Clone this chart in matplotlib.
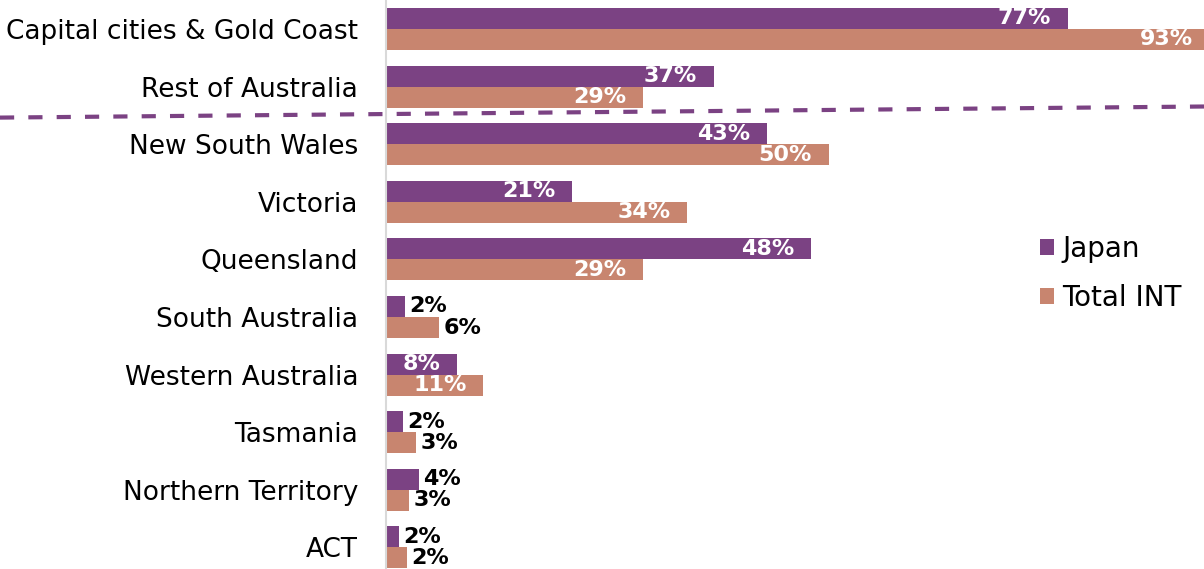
import matplotlib
matplotlib.use("Agg")
from matplotlib import pyplot as plt
from matplotlib.lines import Line2D
import numpy as np

# data (bar lengths, labels are rounded)
regions = ['Capital cities & Gold Coast', 'Rest of Australia', 'New South Wales',
           'Victoria', 'Queensland', 'South Australia', 'Western Australia',
           'Tasmania', 'Northern Territory', 'ACT']
japan = [77, 37, 43, 21, 48, 2.1, 8, 1.9, 3.7, 1.5]
total_int = [93, 29, 50, 34, 29, 6, 11, 3.4, 2.6, 2.4]

purple = '#7B4283'
salmon = '#C8856F'

fig = plt.figure(figsize=(12.04, 5.69), dpi=100)
ax = fig.add_axes([0.3206, 0, 0.6794, 1])

y = np.arange(len(regions))
h = 0.365
ax.barh(y - h / 2, japan, height=h, color=purple, label='Japan')
ax.barh(y + h / 2, total_int, height=h, color=salmon, label='Total INT')

ax.set_xlim(0, 92.4)
ax.set_ylim(9.375, -0.503)

ax.set_yticks(y)
ax.set_yticklabels(regions, fontsize=19)
ax.tick_params(axis='y', length=0, pad=20)
ax.set_xticks([])
for s in ['top', 'right', 'bottom']:
    ax.spines[s].set_visible(False)
ax.spines['left'].set_color('#D9D9D9')
ax.spines['left'].set_linewidth(1.5)

# data labels
for vals, off in [(japan, -h / 2), (total_int, h / 2)]:
    for i, v in enumerate(vals):
        txt = '%d%%' % int(v + 0.5)
        if v >= 8:
            ax.annotate(txt, (v, i + off), xytext=(-12, 0), textcoords='offset points',
                        ha='right', va='center', color='white', fontsize=16,
                        fontweight='bold', annotation_clip=False)
        else:
            ax.annotate(txt, (v, i + off), xytext=(3, 0), textcoords='offset points',
                        ha='left', va='center', color='black', fontsize=16,
                        fontweight='bold', annotation_clip=False)

# dashed separator
fig.add_artist(Line2D([0, 1], [1 - 117.6 / 569, 1 - 106.5 / 569], transform=fig.transFigure,
                      color=purple, lw=3, linestyle=(0, (3.4, 3.4))))

leg = ax.legend(loc='center left', bbox_to_anchor=(0.80, 0.52), frameon=False,
                fontsize=20, handlelength=0.5, handleheight=0.5, handletextpad=0.3,
                labelspacing=0.75, borderpad=0, borderaxespad=0)

plt.savefig('out.png', dpi=100)
